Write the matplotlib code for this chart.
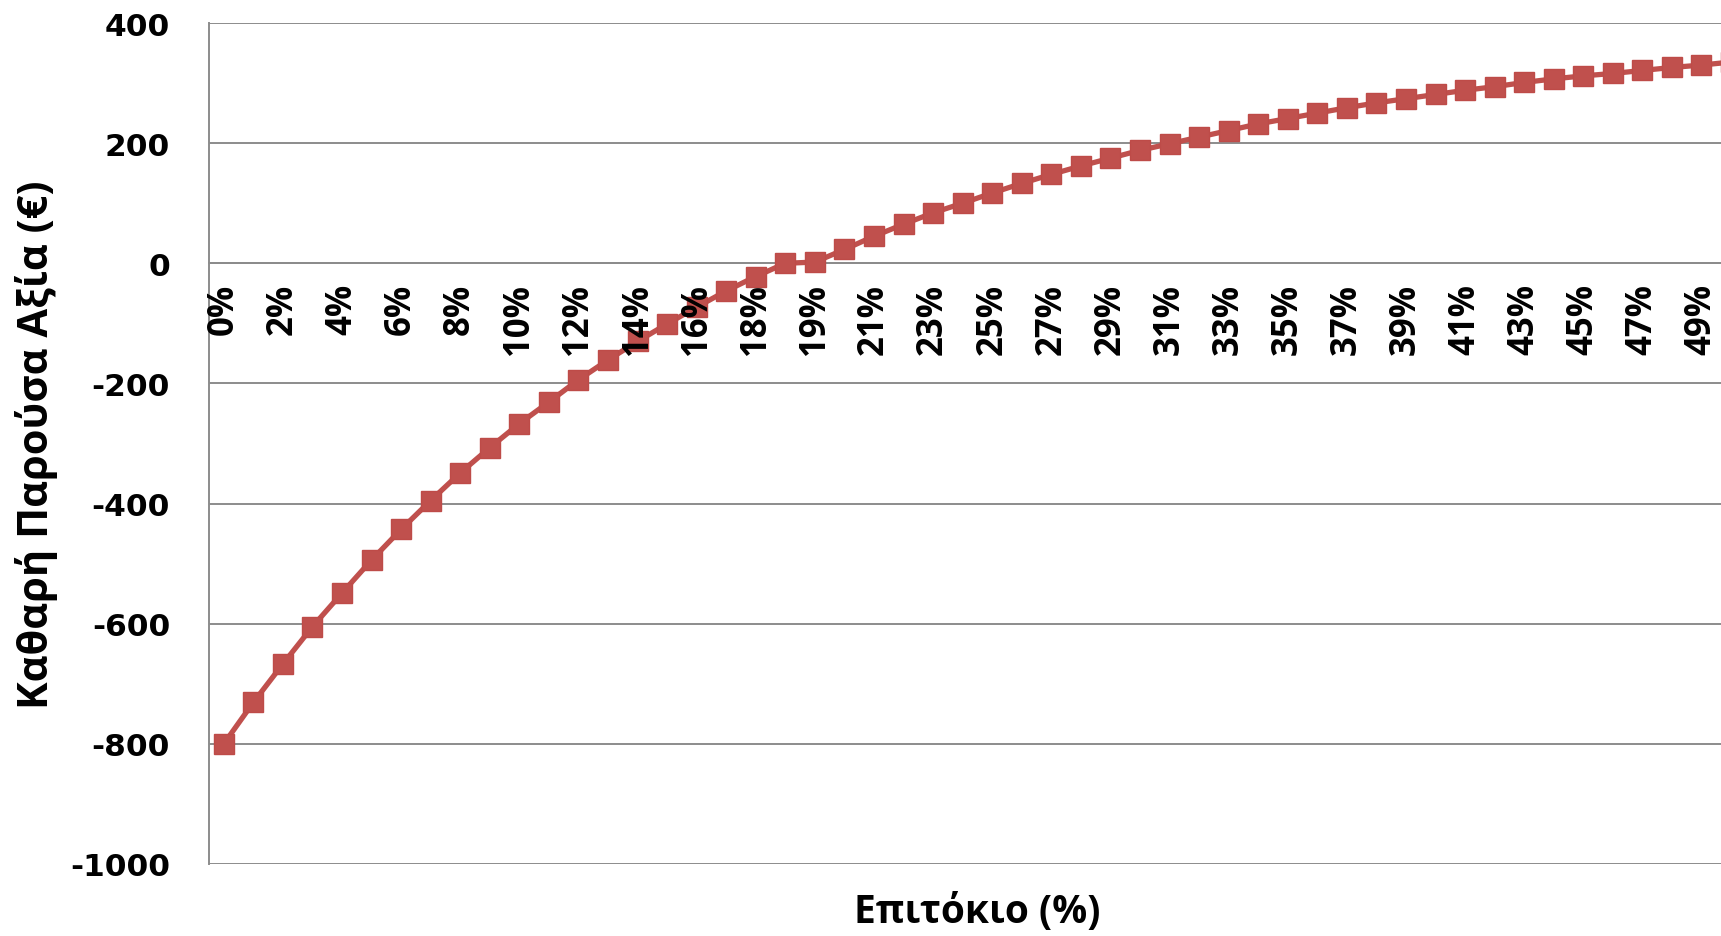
import matplotlib
matplotlib.use("Agg")
import matplotlib.pyplot as plt

# interest rates (%) - the 18.9 point is the IRR inserted by the sheet
rates = [0, 1, 2, 3, 4, 5, 6, 7, 8, 9, 10, 11, 12, 13, 14, 15, 16, 17, 18, 18.9,
         19, 20, 21, 22, 23, 24, 25, 26, 27, 28, 29, 30, 31, 32, 33, 34, 35, 36,
         37, 38, 39, 40, 41, 42, 43, 44, 45, 46, 47, 48, 49, 50]
# net present value (EUR)
npv = [-800, -731, -667, -605, -549, -494, -443, -395, -349, -307, -267, -231,
       -194, -161, -130, -101, -73, -46, -22, 0,
       2, 23, 45, 65, 84, 100, 117, 133, 148, 162, 175, 188, 199, 210, 221, 232,
       241, 250, 259, 267, 274, 281, 288, 294, 301, 307, 312, 316, 321, 326,
       330, 335]
tick_labels = [f"{round(r)}%" for r in rates]
y_ticks = [-1000, -800, -600, -400, -200, 0, 200, 400]

W, H = 1721, 937
fig = plt.figure(figsize=(W / 100, H / 100), dpi=100)
ax = fig.add_axes([209 / W, 72 / H, 1 - 209 / W, 841 / H])

x = list(range(len(rates)))
ax.plot(x, npv, color="#C0504D", linewidth=3.8, marker="s", markersize=14,
        markeredgecolor="#BE4B48", markerfacecolor="#C0504D", zorder=3,
        clip_on=False)

ax.set_xlim(-0.5, (1721 - 224) / 29.55)
ax.set_ylim(-1000, 400)
ax.set_yticks(y_ticks)
ax.set_yticklabels([str(v) for v in y_ticks], fontsize=22.5, fontweight="bold",
                   family="DejaVu Sans")
ax.yaxis.grid(True, color="#8C8C8C", linewidth=1.4)
ax.set_axisbelow(True)

# category labels sit under the zero line, every other one, drawn over the line
ax.spines["bottom"].set_position(("data", 0))
ax.spines["bottom"].set_color("#8C8C8C")
ax.spines["bottom"].set_linewidth(1.4)
ax.set_xticks(x[::2])
ax.set_xticklabels(tick_labels[::2], rotation=90, fontsize=25,
                   fontweight="bold", family="Open Sans", va="top")
ax.xaxis.set_zorder(4)
ax.tick_params(axis="x", length=0, pad=14)
ax.tick_params(axis="y", length=0, pad=28)

for side in ["top", "right"]:
    ax.spines[side].set_visible(False)
ax.spines["left"].set_color("#8C8C8C")
ax.spines["left"].set_linewidth(1.4)

ax.set_ylabel("Καθαρή Παρούσα Αξία (€)", fontsize=30, fontweight="bold",
              family="Open Sans")
ax.yaxis.label.set_va("center")
ax.yaxis.set_label_coords((37 - 209) / 1512, 0.5)
ax.set_xlabel("Επιτόκιο (%)", fontsize=28, fontweight="bold", family="Open Sans")
ax.xaxis.label.set_va("center")
ax.xaxis.set_label_coords(0.508, -0.057)

fig.savefig("out.png", dpi=100)
